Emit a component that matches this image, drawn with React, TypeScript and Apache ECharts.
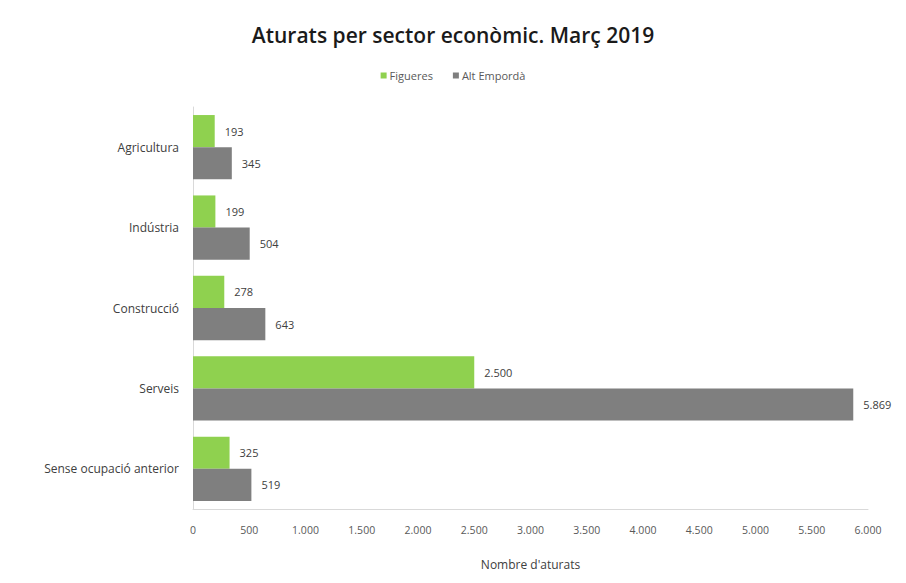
import React, { useEffect, useRef } from "react";
import * as echarts from "echarts";

const categories = ["Agricultura", "Indústria", "Construcció", "Serveis", "Sense ocupació anterior"];
const figueres = [193, 199, 278, 2500, 325];
const altEmporda = [345, 504, 643, 5869, 519];
const seriesNames = ["Figueres", "Alt Empordà"];

const fmt = (v: number) => {
  const s = String(Math.round(v));
  return s.replace(/\B(?=(\d{3})+(?!\d))/g, ".");
};

const FONT = "'Open Sans', 'Noto Sans', sans-serif";

export default function App() {
  const ref = useRef<HTMLDivElement>(null);
  useEffect(() => {
    if (!ref.current) return;
    const chart = echarts.init(ref.current, undefined, { renderer: "svg" });
    chart.setOption({
      animation: false,
      backgroundColor: "#ffffff",
      textStyle: { fontFamily: FONT },
      title: {
        text: "Aturats per sector econòmic. Març 2019",
        left: "center",
        top: 11,
        textStyle: { fontFamily: FONT, fontSize: 21, fontWeight: 600, color: "#1a1a1a" },
      },
      legend: {
        data: seriesNames,
        top: 57,
        left: "center",
        itemWidth: 6,
        itemHeight: 6,
        itemGap: 20,
        icon: "rect",
        textStyle: { fontFamily: FONT, fontSize: 11, color: "#595959", padding: [0, 0, 0, -2] },
      },
      grid: { left: 185, right: 30, top: 99, bottom: 58, containLabel: false },
      xAxis: {
        type: "value",
        min: 0,
        max: 6000,
        interval: 500,
        name: "Nombre d'aturats",
        nameLocation: "middle",
        nameGap: 49,
        nameTextStyle: { fontFamily: FONT, fontSize: 12, color: "#404040" },
        axisLine: { show: true, lineStyle: { color: "#d9d9d9" } },
        axisTick: { show: false },
        splitLine: { show: false },
        axisLabel: {
          fontFamily: FONT,
          fontSize: 10.5,
          color: "#595959",
          margin: 15,
          formatter: (v: number) => fmt(v),
        },
      },
      yAxis: {
        type: "category",
        data: categories,
        inverse: true,
        axisLine: { show: true, lineStyle: { color: "#d9d9d9" } },
        axisTick: { show: false },
        axisLabel: { fontFamily: FONT, fontSize: 12, color: "#404040", margin: 14 },
      },
      series: [
        {
          name: seriesNames[0],
          type: "bar",
          data: figueres,
          barGap: "0%",
          barCategoryGap: "20%",
          itemStyle: { color: "#8fd14f" },
          label: {
            show: true,
            position: "right",
            distance: 10,
            fontFamily: FONT,
            fontSize: 11,
            color: "#404040",
            formatter: (p: any) => fmt(p.value),
          },
        },
        {
          name: seriesNames[1],
          type: "bar",
          data: altEmporda,
          barGap: "0%",
          barCategoryGap: "20%",
          itemStyle: { color: "#7f7f7f" },
          label: {
            show: true,
            position: "right",
            distance: 10,
            fontFamily: FONT,
            fontSize: 11,
            color: "#404040",
            formatter: (p: any) => fmt(p.value),
          },
        },
      ],
    });
    return () => chart.dispose();
  }, []);
  return <div ref={ref} style={{ width: 890, height: 567 }} />;
}
